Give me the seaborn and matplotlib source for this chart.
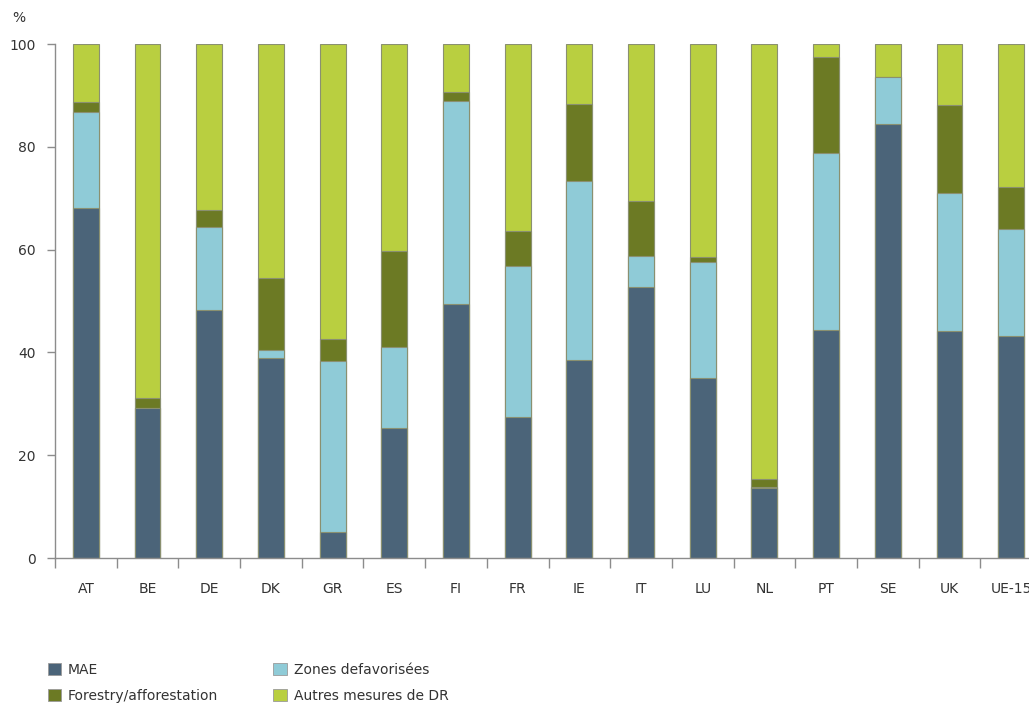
import matplotlib
matplotlib.use("Agg")
import matplotlib.pyplot as plt
from matplotlib.patches import Patch
from matplotlib.ticker import FixedLocator
import numpy as np
import pandas as pd
import seaborn as sns

# Share of rural development spending by measure (%)
countries = ["AT", "BE", "DE", "DK", "GR", "ES", "FI", "FR", "IE", "IT",
             "LU", "NL", "PT", "SE", "UK", "UE-15"]
mae = [68.0, 29.1, 48.3, 39.0, 5.1, 25.2, 49.4, 27.4, 38.5, 52.7,
       35.0, 13.6, 44.3, 84.4, 44.2, 43.1]
zones = [18.8, 0.0, 16.0, 1.5, 33.2, 15.8, 39.5, 29.5, 34.9, 6.1,
         22.6, 0.3, 34.4, 9.2, 26.9, 20.9]
forestry = [2.0, 2.0, 3.5, 14.0, 4.4, 18.8, 1.7, 6.7, 14.9, 10.7,
            0.9, 1.5, 18.8, 0.0, 17.0, 8.1]
autres = [100 - a - b - c for a, b, c in zip(mae, zones, forestry)]

series_names = ["MAE", "Zones defavorisées", "Forestry/afforestation",
                "Autres mesures de DR"]
colors = ["#4b6479", "#8fcbd7", "#6c7a24", "#b9cf40"]

df = pd.DataFrame({
    "pays": countries,
    "MAE": mae,
    "Zones defavorisées": zones,
    "Forestry/afforestation": forestry,
    "Autres mesures de DR": autres,
})

sns.set_theme(style="white")
plt.rcParams["font.family"] = ["DejaVu Sans"]
text_col = "#333333"
axis_col = "#8c8c8c"

fig = plt.figure(figsize=(10.29, 7.08), dpi=100)
ax = fig.add_axes([55 / 1029, 150 / 708, 987 / 1029, 514 / 708])

# Stacked bars: draw cumulative totals from the top layer down
cum = df[series_names].cumsum(axis=1)
for name, col in reversed(list(zip(series_names, colors))):
    sns.barplot(x=df["pays"], y=cum[name], color=col, width=0.42,
                edgecolor="#8a9070", linewidth=0.8, saturation=1, ax=ax)

ax.set_xlim(-0.5, len(countries) - 0.5)
ax.set_ylim(0, 100)
ax.set_yticks(np.arange(0, 101, 20))
ax.set_xlabel("")
ax.set_ylabel("")

for side in ["top", "right"]:
    ax.spines[side].set_visible(False)
for side in ["left", "bottom"]:
    ax.spines[side].set_color(axis_col)
    ax.spines[side].set_linewidth(1.0)

ax.tick_params(axis="y", which="major", direction="out", length=6, width=1,
               color=axis_col, pad=8, labelsize=10, labelcolor=text_col, left=True)
ax.tick_params(axis="x", which="major", length=0, pad=17, labelsize=10,
               labelcolor=text_col)
ax.xaxis.set_minor_locator(FixedLocator(np.arange(-0.5, len(countries), 1.0)))
ax.tick_params(axis="x", which="minor", direction="out", length=7, width=1,
               color=axis_col, bottom=True)

fig.text(12 / 1029, 1 - 18 / 708, "%", fontsize=10, color=text_col,
         va="center", ha="left")

handles = [Patch(facecolor=c, edgecolor="#9a9a9a", linewidth=0.6)
           for c in colors]
order = [0, 2, 1, 3]
fig.legend([handles[i] for i in order], [series_names[i] for i in order],
           ncol=2, loc="upper left", bbox_to_anchor=(35 / 1029, 1 - 650 / 708),
           frameon=False, fontsize=10, labelcolor=text_col,
           handlelength=1.0, handleheight=1.0, handletextpad=0.45,
           columnspacing=4.0, labelspacing=0.9)

fig.savefig("out.png", dpi=100)
